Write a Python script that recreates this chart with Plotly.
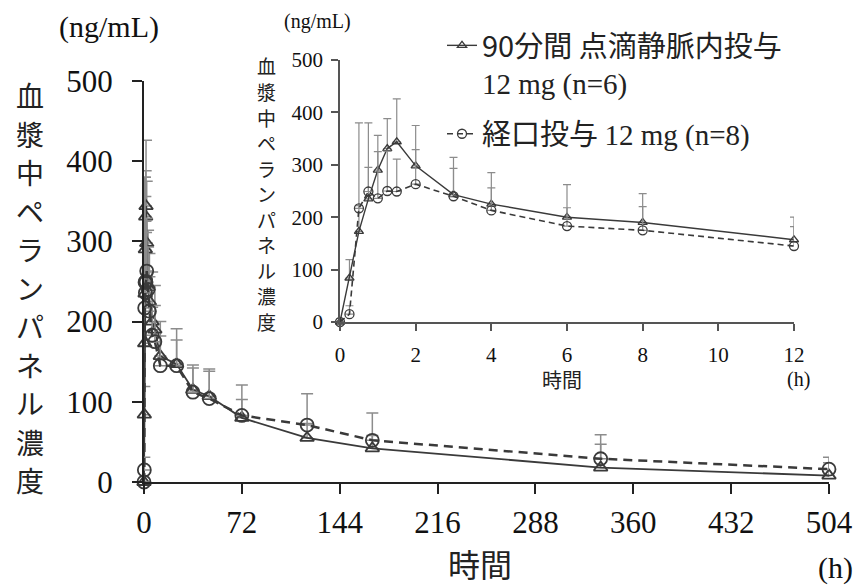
import plotly.graph_objects as go

# ---- data ----
time_h = [0, 0.25, 0.5, 0.75, 1.0, 1.25, 1.5, 2, 3, 4, 6, 8, 12, 24, 36, 48, 72, 120, 168, 336, 504]
iv_mean = [0, 84, 173, 235, 290, 331, 344, 298, 243, 225, 200, 190, 157, 147, 115, 107, 80, 55, 42, 18, 8]
iv_upper = [0, 119, 222, 295, 356, 388, 426, 375, 314, 285, 262, 245, 200, 191, 146, 141, 103, 73, 58, 47, 24]
po_mean = [0, 15, 217, 249, 236, 250, 249, 263, 240, 213, 183, 175, 145, 145, 112, 104, 83, 71, 52, 29, 16]
po_upper = [0, 31, 380, 380, 325, 326, 311, 329, 293, 256, 218, 220, 182, 177, 142, 138, 121, 110, 86, 59, 31]

main_xticks = [0, 72, 144, 216, 288, 360, 432, 504]
main_yticks = [0, 100, 200, 300, 400, 500]
inset_xticks = [0, 2, 4, 6, 8, 10, 12]
inset_yticks = [0, 100, 200, 300, 400, 500]

iv_name = "90分間 点滴静脈内投与<br><span style='font-family:Liberation Serif'>12 mg (n=6)</span>"
po_name = "経口投与 <span style='font-family:Liberation Serif'>12 mg (n=8)</span>"
ytitle = "血漿中ペランパネル濃度"

# ---- helpers for paper coordinates ----
L, R, T, B = 144, 27, 0, 104
W, H = 856, 586
PW, PH = W - L - R, H - T - B


def px(x):
    return (x - L) / PW


def py(y):
    return (H - B - y) / PH


line_col = "#3a3a3a"
err_col = "#8c8c8c"

iv_err = [u - m for u, m in zip(iv_upper, iv_mean)]
po_err = [u - m for u, m in zip(po_upper, po_mean)]
zeros = [0] * len(time_h)

fig = go.Figure()

# main chart traces
fig.add_trace(go.Scatter(
    x=time_h, y=iv_mean, mode="lines+markers", showlegend=False,
    line=dict(color=line_col, width=1.8),
    marker=dict(symbol="triangle-up-open", size=12, color=line_col, line=dict(width=1.8)),
    error_y=dict(type="data", symmetric=False, array=iv_err, arrayminus=zeros,
                 color=err_col, thickness=1.5, width=6),
    cliponaxis=False, xaxis="x", yaxis="y"))
fig.add_trace(go.Scatter(
    x=time_h, y=po_mean, mode="lines+markers", showlegend=False,
    line=dict(color=line_col, width=2.5, dash="9px,6px"),
    marker=dict(symbol="circle-open", size=13, color=line_col, line=dict(width=1.8)),
    error_y=dict(type="data", symmetric=False, array=po_err, arrayminus=zeros,
                 color=err_col, thickness=1.5, width=6),
    cliponaxis=False, xaxis="x", yaxis="y"))

# inset traces (0-12 h)
n12 = time_h.index(12) + 1
fig.add_trace(go.Scatter(
    x=time_h[:n12], y=iv_mean[:n12], mode="lines+markers", name=iv_name,
    legendgroup="iv",
    line=dict(color=line_col, width=1.4),
    marker=dict(symbol="triangle-up-open", size=8, color=line_col, line=dict(width=1.3)),
    error_y=dict(type="data", symmetric=False, array=iv_err[:n12], arrayminus=zeros[:n12],
                 color=err_col, thickness=1.2, width=4),
    cliponaxis=False, xaxis="x2", yaxis="y2"))
fig.add_trace(go.Scatter(
    x=time_h[:n12], y=po_mean[:n12], mode="lines+markers", name=po_name,
    legendgroup="po",
    line=dict(color=line_col, width=1.6, dash="6px,4px"),
    marker=dict(symbol="circle-open", size=9, color=line_col, line=dict(width=1.3)),
    error_y=dict(type="data", symmetric=False, array=po_err[:n12], arrayminus=zeros[:n12],
                 color=err_col, thickness=1.2, width=4),
    cliponaxis=False, xaxis="x2", yaxis="y2"))

serif = "Liberation Serif"
cjk = "Noto Sans CJK JP"

fig.update_layout(
    width=W, height=H,
    margin=dict(l=L, r=R, t=T, b=B, autoexpand=False),
    plot_bgcolor="white", paper_bgcolor="white",
    xaxis=dict(domain=[0, 1], range=[0, 504], tickvals=main_xticks, showgrid=False, zeroline=False,
               showline=True, linecolor="#222", linewidth=2, ticks="outside", ticklen=10,
               tickwidth=2, tickcolor="#222", ticklabelstandoff=2, automargin=False,
               tickfont=dict(family=serif, size=31, color="#111")),
    yaxis=dict(domain=[0, py(81)], range=[0, 500], tickvals=main_yticks, showgrid=False, zeroline=False,
               showline=True, linecolor="#222", linewidth=2, ticks="outside", ticklen=10,
               tickwidth=2, tickcolor="#222", ticklabelstandoff=13, automargin=False,
               tickfont=dict(family=serif, size=31, color="#111")),
    xaxis2=dict(domain=[px(340), px(794)], anchor="y2", range=[0, 12], tickvals=inset_xticks,
                showgrid=False, zeroline=False, showline=True, linecolor="#555", linewidth=1.5,
                ticks="outside", ticklen=7, tickwidth=1.5, tickcolor="#555", ticklabelstandoff=6,
                automargin=False,
                tickfont=dict(family=serif, size=21, color="#111")),
    yaxis2=dict(domain=[py(322), py(60)], anchor="x2", range=[0, 500], tickvals=inset_yticks,
                showgrid=False, zeroline=False, showline=True, linecolor="#555", linewidth=1.5,
                ticks="outside", ticklen=7, tickwidth=1.5, tickcolor="#555", ticklabelstandoff=4,
                automargin=False,
                tickfont=dict(family=serif, size=21, color="#111")),
    legend=dict(x=px(442), y=py(20), xanchor="left", yanchor="top", bgcolor="rgba(0,0,0,0)",
                font=dict(family=cjk, size=29, color="#222"), valign="top",
                tracegroupgap=10, traceorder="grouped"),
)

annos = [
    dict(text="(ng/mL)", x=px(109), y=py(27), font=dict(family=serif, size=30, color="#111")),
    dict(text="時間", x=px(480), y=py(563), font=dict(family=cjk, size=32, color="#222")),
    dict(text="(h)", x=px(835), y=py(568), font=dict(family=serif, size=30, color="#111")),
    dict(text="(ng/mL)", x=px(317), y=py(22), font=dict(family=serif, size=20, color="#111")),
    dict(text="時間", x=px(562), y=py(379), font=dict(family=cjk, size=20, color="#222")),
    dict(text="(h)", x=px(798), y=py(379), font=dict(family=serif, size=20, color="#111")),
]
# vertical (stacked) y-axis titles, one character per row
for i, ch in enumerate(ytitle):
    annos.append(dict(text=ch, x=px(30), y=py(95 + 38.5 * i),
                      font=dict(family=cjk, size=28, color="#222")))
    annos.append(dict(text=ch, x=px(266), y=py(66 + 25.5 * i),
                      font=dict(family=cjk, size=19, color="#222")))

for a in annos:
    fig.add_annotation(xref="paper", yref="paper", showarrow=False,
                       xanchor="center", yanchor="middle", **a)

fig.write_html("out.html", config={"displayModeBar": False},
               post_script="document.body.style.margin='0';")
